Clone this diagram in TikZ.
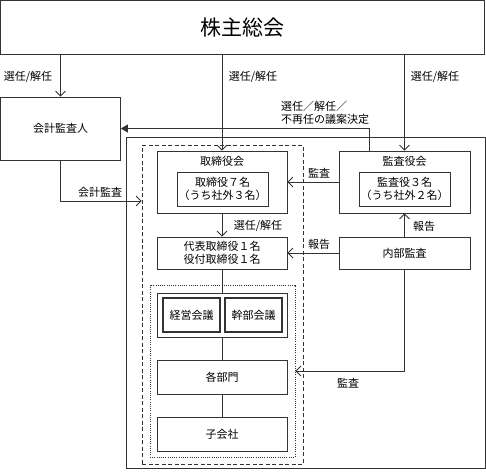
\documentclass[tikz,border=0pt]{standalone}
\usepackage{fontspec}
\setmainfont{Noto Sans CJK JP}
\usetikzlibrary{arrows.meta}
\begin{document}
\begin{tikzpicture}[x=1pt,y=-1pt,
  box/.style={draw=black!80,line width=0.8pt,rectangle,inner sep=0pt},
  txt/.style={font=\fontsize{11}{13}\selectfont,inner sep=0pt,align=center},
  ln/.style={draw=black!80,line width=0.8pt},
  arr/.style={ln,-{Straight Barb[length=5pt,width=10pt]}},
  tri/.style={ln,-{Triangle[length=7pt,width=8pt]}}]
\useasboundingbox (0,0) rectangle (486,472);
% boxes
\node[box,minimum width=484pt,minimum height=54pt,font=\fontsize{21}{24}\selectfont] (soukai) at (242.5,27.5) {株主総会};
\node[box,minimum width=120pt,minimum height=63pt,txt] (kansanin) at (60.5,128.5) {会計監査人};
\node[box,minimum width=359pt,minimum height=331pt] (outer) at (305.5,302.5) {};
\node[box,dash pattern=on 4pt off 2.5pt,minimum width=161pt,minimum height=319pt] (dashed) at (222.5,304.5) {};
\node[box,dash pattern=on 1pt off 1.2pt,minimum width=145pt,minimum height=172pt] (dotted) at (222.5,371) {};
\node[box,minimum width=130pt,minimum height=62pt] (torikai) at (222,182) {};
\node[txt] (torikaiT) at (222,161) {取締役会};
\node[box,minimum width=91pt,minimum height=34pt,txt] (toriin) at (222.5,189) {取締役７名\\（うち社外３名）};
\node[box,minimum width=131pt,minimum height=62pt] (kansakai) at (404.5,182) {};
\node[txt] (kansakaiT) at (404.5,161) {監査役会};
\node[box,minimum width=91pt,minimum height=34pt,txt] (kansain) at (404.5,189) {監査役３名\\（うち社外２名）};
\node[box,minimum width=130pt,minimum height=32pt,txt] (daihyo) at (222,253) {代表取締役１名\\役付取締役１名};
\node[box,minimum width=131pt,minimum height=32pt,txt] (naibu) at (404.5,253) {内部監査};
\node[box,minimum width=130pt,minimum height=44pt] (kaigi) at (222,315) {};
\node[box,line width=1.6pt,minimum width=57pt,minimum height=34pt,txt] (keiei) at (191.5,315) {経営会議};
\node[box,line width=1.6pt,minimum width=57pt,minimum height=34pt,txt] (kanbu) at (253.5,315) {幹部会議};
\node[box,minimum width=130pt,minimum height=34pt,txt] (bumon) at (222,377) {各部門};
\node[box,minimum width=130pt,minimum height=34pt,txt] (kogaisha) at (222,434) {子会社};
% coordinates
\coordinate (fb) at (369,128);
\coordinate (ky1) at (0,201);
\coordinate (ky2) at (0,371);
\coordinate (kc) at (dashed.west |- ky1);
\coordinate (kd) at (dotted.east |- ky2);
% connectors
\draw[arr] (soukai.south -| kansanin) -- (kansanin.north);
\draw[arr] (soukai.south -| torikai) -- (torikai.north);
\draw[arr] (soukai.south -| kansakai) -- (kansakai.north);
\draw[tri] (kansakai.north -| fb) |- (kansanin.east);
\draw[arr] (kansakai.west) -- (torikai.east);
\draw[arr] (naibu.west) -- (daihyo.east);
\draw[arr] (naibu.north) -- (kansakai.south);
\draw[arr] (torikai.south) -- (daihyo.north);
\draw[arr] (kansanin.south) |- (kc);
\draw[ln] (daihyo.south) -- (kaigi.north);
\draw[ln] (kaigi.south) -- (bumon.north);
\draw[ln] (bumon.south) -- (kogaisha.north);
\draw[arr] (naibu.south) |- (kd);
% labels
\node[txt] (l1) at (28,77) {選任/解任};
\node[txt] (l2) at (253,77) {選任/解任};
\node[txt] (l3) at (435,77) {選任/解任};
\node[txt,anchor=west,align=left] (l4) at (281,113) {選任／解任／\\不再任の議案決定};
\node[txt] (l5) at (319,173) {監査};
\node[txt] (l6) at (258,226) {選任/解任};
\node[txt] (l7) at (319,244) {報告};
\node[txt] (l8) at (424,226) {報告};
\node[txt] (l9) at (100,192) {会計監査};
\node[txt] (l10) at (348,383) {監査};
\end{tikzpicture}
\end{document}
